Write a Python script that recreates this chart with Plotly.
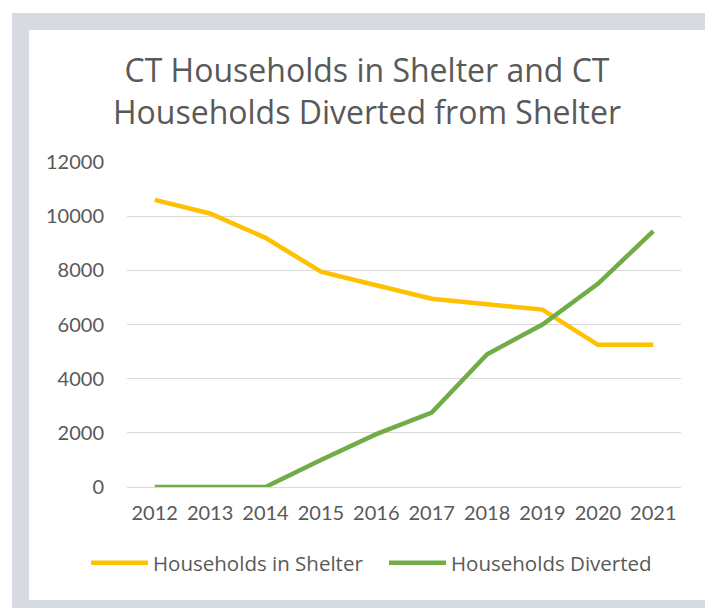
import plotly.graph_objects as go

years = ["2012", "2013", "2014", "2015", "2016", "2017", "2018", "2019", "2020", "2021"]
in_shelter = [10600, 10100, 9200, 7950, 7450, 6950, 6750, 6550, 5250, 5250]
diverted = [0, 0, 0, 1000, 1950, 2750, 4900, 6000, 7500, 9450]
y_ticks = [0, 2000, 4000, 6000, 8000, 10000, 12000]

W, H = 705, 608
L, R, T, B = 127, 24, 162, 121
pw, ph = W - L - R, H - T - B

def px(x):
    return (x - L) / pw

def py(y):
    return (H - B - y) / ph

TEXT = "#595959"
FONT = "Lato"

fig = go.Figure()
fig.add_trace(go.Scatter(x=years, y=in_shelter, mode="lines", name="Households in Shelter",
                         line=dict(color="#FFC000", width=4.5), legend="legend"))
fig.add_trace(go.Scatter(x=years, y=diverted, mode="lines", name="Households Diverted",
                         line=dict(color="#70AD47", width=4.5), legend="legend2"))

fig.add_shape(type="rect", xref="paper", yref="paper", layer="below",
              x0=px(12), x1=px(720), y0=py(620), y1=py(13),
              fillcolor="#d6dae2", line=dict(width=0))
fig.add_shape(type="rect", xref="paper", yref="paper", layer="below",
              x0=px(29), x1=px(720), y0=py(600), y1=py(30),
              fillcolor="white", line=dict(width=0))

leg_common = dict(orientation="h", xanchor="left", yref="container", y=1 - 563 / H,
                  yanchor="middle", xref="container",
                  font=dict(family="Open Sans", size=20.5, color=TEXT), itemwidth=57,
                  bgcolor="rgba(0,0,0,0)")

fig.update_layout(
    width=W, height=H,
    margin=dict(l=L, r=R, t=T, b=B, autoexpand=False),
    paper_bgcolor="white", plot_bgcolor="rgba(0,0,0,0)",
    title=dict(text="CT Households in Shelter and CT<br>Households Diverted from Shelter",
               x=367 / W, xref="container", xanchor="center",
               y=1 - 82 / H, yref="container", yanchor="middle",
               font=dict(family="Open Sans", size=32, color=TEXT)),
    font=dict(family=FONT, size=20, color=TEXT),
    xaxis=dict(type="category", range=[-0.5, 9.5], showgrid=False, zeroline=False,
               showline=False, ticks="", tickfont=dict(size=20, color=TEXT),
               ticklabelstandoff=12),
    yaxis=dict(range=[0, 12000], tickvals=y_ticks, tickformat="d",
               showgrid=True, gridcolor="#d9d9d9", gridwidth=1.3,
               zeroline=True, zerolinecolor="#d9d9d9", zerolinewidth=1.3,
               showline=False, ticks="", tickfont=dict(size=20, color=TEXT),
               ticklabelstandoff=22),
    legend=dict(x=86 / W, **leg_common),
    legend2=dict(x=384 / W, **leg_common),
    showlegend=True,
)

fig.write_html("out.html", config={"displayModeBar": False},
               post_script="document.body.style.margin='0';document.body.style.overflow='hidden';")
